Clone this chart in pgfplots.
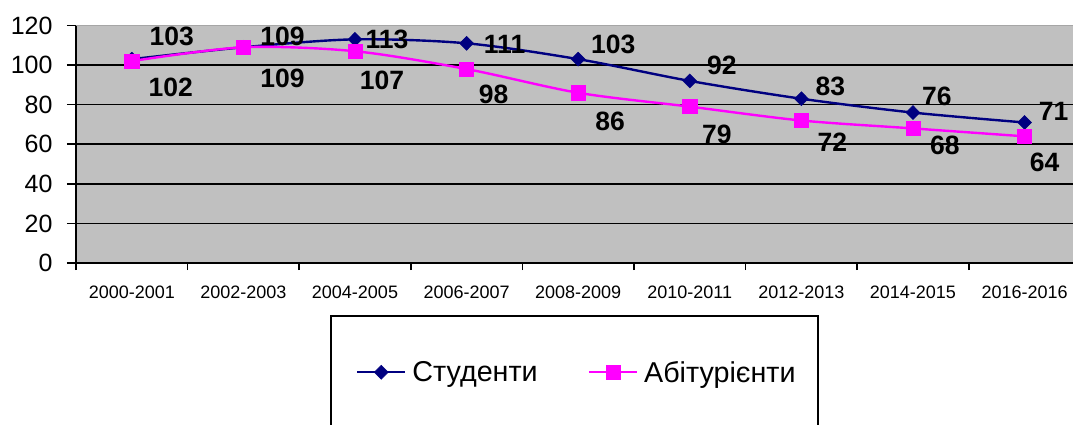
\documentclass[border=0pt]{standalone}
\usepackage{fontspec}
\setmainfont{Liberation Sans}
\usepackage{pgfplots}
\usepackage{pgfplotstable}
\pgfplotsset{compat=1.18}
\definecolor{navyS}{RGB}{0,0,128}
\definecolor{magA}{RGB}{255,0,255}
\definecolor{silverbg}{RGB}{192,192,192}
\pgfplotstableread{
x y dx dy
0 103 40 23
1 109 39 11
2 113 32 0
3 111 38 -1
4 103 35 15
5 92 32 16
6 83 29 12
7 76 24 16
8 71 29 11
}\stud
\pgfplotstableread{
x y dx dy
0 102 39 -26
1 109 39 -31
2 107 27 -29
3 98 27 -25
4 86 32 -29
5 79 27 -28
6 72 31 -22
7 68 32 -17
8 64 20 -26
}\abit
\newcommand{\lblfont}{\fontsize{26.5bp}{27bp}\selectfont\bfseries}
\begin{document}
\begin{tikzpicture}
\useasboundingbox (0,0) rectangle (1073bp,425bp);
\begin{axis}[
  at={(76bp,162bp)}, anchor=south west,
  scale only axis, width=997bp, height=237.5bp,
  xmin=-0.5, xmax=8.434, ymin=0, ymax=120,
  axis x line*=bottom, axis y line*=left,
  axis line style={black, line width=2bp, -},
  axis background/.style={fill=silverbg},
  xtick={0,...,8},
  xticklabels={2000-2001,2002-2003,2004-2005,2006-2007,2008-2009,2010-2011,2012-2013,2014-2015,2016-2016},
  major x tick style={draw=none},
  minor xtick={-0.5,0.5,...,7.5},
  minor x tick style={black, line width=1.5bp},
  minor tick length=7bp,
  ytick={0,20,...,100},
  extra y ticks={120},
  extra y tick style={grid=none},
  ymajorgrids, grid style={black, line width=1.6bp},
  major tick length=9bp,
  tick align=outside,
  y tick style={black, line width=1.5bp},
  /pgf/number format/assume math mode=true,
  yticklabel style={font=\fontsize{25bp}{25bp}\selectfont, xshift=-11bp},
  xticklabel style={font=\fontsize{18bp}{18bp}\selectfont, yshift=-10bp},
  legend style={at={(0.2548,-0.2189)}, anchor=north west, draw=black, line width=2bp,
    inner xsep=20bp, inner ysep=43bp, font=\fontsize{28.7bp}{28.7bp}\selectfont,
    /tikz/every even column/.append style={column sep=43bp}},
  legend columns=2, legend cell align=left,
  legend image code/.code={\path (-5bp,0bp) (52bp,0bp);\draw[mark repeat=2,mark phase=2,#1] plot coordinates {(0bp,0bp) (24bp,0bp) (48bp,0bp)};},
  clip=false,
]
\addplot[navyS, line width=2.4bp, smooth, tension=0.5,
  mark=diamond*, mark size=7bp, mark options={solid, xscale=1.33, line width=0.5bp},
  visualization depends on={\thisrow{dx}\as\dx},
  visualization depends on={\thisrow{dy}\as\dy},
  nodes near coords={\pgfmathprintnumber[assume math mode=true]{\pgfplotspointmeta}},
  nodes near coords style={anchor=center, xshift=\dx bp, yshift=\dy bp, font=\lblfont, text=black, inner sep=0pt}
] table[x=x,y=y] {\stud};
\addlegendentry{Студенти}
\addplot[magA, line width=2.4bp, smooth, tension=0.5,
  mark=square*, mark size=7.1bp, mark options={solid, line width=0.5bp},
  visualization depends on={\thisrow{dx}\as\dx},
  visualization depends on={\thisrow{dy}\as\dy},
  nodes near coords={\pgfmathprintnumber[assume math mode=true]{\pgfplotspointmeta}},
  nodes near coords style={anchor=center, xshift=\dx bp, yshift=\dy bp, font=\lblfont, text=black, inner sep=0pt}
] table[x=x,y=y] {\abit};
\addlegendentry{Абітурієнти}
\draw[gray!70, line width=1bp] (rel axis cs:0,1) -- (rel axis cs:1,1);
\end{axis}
\end{tikzpicture}
\end{document}
